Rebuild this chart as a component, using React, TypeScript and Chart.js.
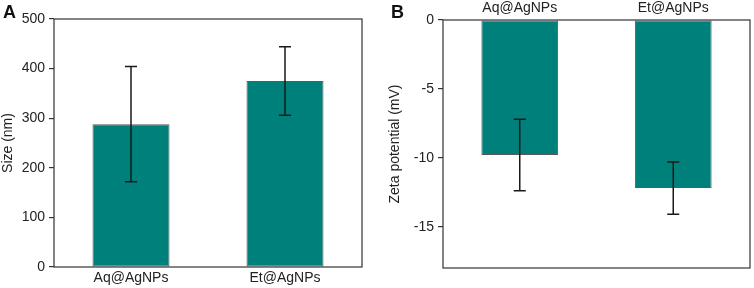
import React, { useEffect, useRef } from "react";
import { Chart, registerables } from "chart.js";

Chart.register(...registerables);

const categories = ["Aq@AgNPs", "Et@AgNPs"];
const sizeValues = [288, 375];
const sizeErrors = [116, 69];
const sizeTicks = [0, 100, 200, 300, 400, 500];
const zetaValues = [-9.8, -12.2];
const zetaErrors = [2.6, 1.9];
const zetaTicks = [0, -5, -10, -15];

const BAR_COLOR = "#00807b";
const FONT = "'Liberation Sans', Arial, sans-serif";

const framePlugin = {
  id: "frame",
  afterDatasetsDraw(chart: any) {
    const { ctx, chartArea } = chart;
    ctx.save();
    ctx.strokeStyle = "#333";
    ctx.lineWidth = 1.2;
    ctx.strokeRect(chartArea.left, chartArea.top, chartArea.right - chartArea.left, chartArea.bottom - chartArea.top);
    ctx.restore();
  },
};

const errorBarPlugin = {
  id: "errbars",
  afterDatasetsDraw(chart: any) {
    const { ctx } = chart;
    const ds = chart.data.datasets[0];
    const errs: number[] = ds.errors;
    const meta = chart.getDatasetMeta(0);
    const y = chart.scales.y;
    ctx.save();
    ctx.strokeStyle = "#1a1a1a";
    ctx.lineWidth = 1.5;
    meta.data.forEach((bar: any, i: number) => {
      const v = ds.data[i];
      const e = errs[i];
      const x = bar.x;
      const y1 = y.getPixelForValue(v + e);
      const y2 = y.getPixelForValue(v - e);
      ctx.beginPath();
      ctx.moveTo(x, y1);
      ctx.lineTo(x, y2);
      ctx.moveTo(x - 6, y1);
      ctx.lineTo(x + 6, y1);
      ctx.moveTo(x - 6, y2);
      ctx.lineTo(x + 6, y2);
      ctx.stroke();
    });
    ctx.restore();
  },
};

function makeConfig(opts: {
  values: number[];
  errors: number[];
  ticks: number[];
  min: number;
  max: number;
  title: string;
  xPos: "top" | "bottom";
  yWidth: number;
  xHeight: number;
  padding: any;
  titlePad: number;
}): any {
  return {
    type: "bar",
    data: {
      labels: categories,
      datasets: [
        {
          data: opts.values,
          errors: opts.errors,
          backgroundColor: BAR_COLOR,
          borderColor: "#5a5a5a",
          borderWidth: 1,
          borderSkipped: false,
          barPercentage: 0.5,
          categoryPercentage: 1,
        },
      ],
    },
    options: {
      responsive: false,
      animation: false,
      devicePixelRatio: 1,
      layout: { padding: opts.padding },
      plugins: { legend: { display: false }, tooltip: { enabled: false } },
      scales: {
        x: {
          position: opts.xPos,
          grid: { display: false, drawTicks: false },
          border: { display: false },
          ticks: { color: "#222", font: { family: FONT, size: 14 }, padding: 3, maxRotation: 0 },
          afterFit: (s: any) => {
            s.height = opts.xHeight;
          },
        },
        y: {
          min: opts.min,
          max: opts.max,
          grid: { display: true, drawOnChartArea: false, drawTicks: true, tickLength: 5, color: "#333", lineWidth: 1.2 },
          border: { display: false },
          ticks: { color: "#222", font: { family: FONT, size: 14 }, padding: 4 },
          afterBuildTicks: (s: any) => {
            s.ticks = opts.ticks.map((v) => ({ value: v }));
          },
          afterFit: (s: any) => {
            s.width = opts.yWidth;
          },
          title: {
            display: true,
            text: opts.title,
            color: "#222",
            font: { family: FONT, size: 14 },
            padding: { top: opts.titlePad, bottom: 0 },
          },
        },
      },
    },
    plugins: [errorBarPlugin, framePlugin],
  };
}

function Panel(props: { config: any; width: number; height: number }) {
  const ref = useRef<HTMLCanvasElement>(null);
  useEffect(() => {
    if (!ref.current) return;
    const chart = new Chart(ref.current, props.config);
    return () => chart.destroy();
  }, []);
  return <canvas ref={ref} width={props.width} height={props.height} style={{ display: "block" }} />;
}

export default function App() {
  const cfgA = makeConfig({
    values: sizeValues,
    errors: sizeErrors,
    ticks: sizeTicks,
    min: 0,
    max: 500,
    title: "Size (nm)",
    xPos: "bottom",
    yWidth: 54,
    xHeight: 21,
    padding: { top: 19, right: 15, left: 0, bottom: 0 },
    titlePad: 0,
  });
  const cfgB = makeConfig({
    values: zetaValues,
    errors: zetaErrors,
    ticks: zetaTicks,
    min: -18,
    max: 0,
    title: "Zeta potential (mV)",
    xPos: "top",
    yWidth: 66,
    xHeight: 20,
    padding: { top: 0, right: 4, left: 0, bottom: 20 },
    titlePad: 10,
  });
  const letter: React.CSSProperties = {
    position: "absolute",
    fontFamily: FONT,
    fontWeight: "bold",
    fontSize: 18,
    lineHeight: "18px",
    color: "#111",
  };
  return (
    <div style={{ position: "fixed", left: 0, top: 0, width: 754, height: 288, background: "#fff" }}>
      <div style={{ position: "absolute", left: 0, top: 0 }}>
        <Panel config={cfgA} width={377} height={288} />
      </div>
      <div style={{ position: "absolute", left: 377, top: 0 }}>
        <Panel config={cfgB} width={377} height={288} />
      </div>
      <div style={{ ...letter, left: 3, top: 3 }}>A</div>
      <div style={{ ...letter, left: 391, top: 3 }}>B</div>
    </div>
  );
}
